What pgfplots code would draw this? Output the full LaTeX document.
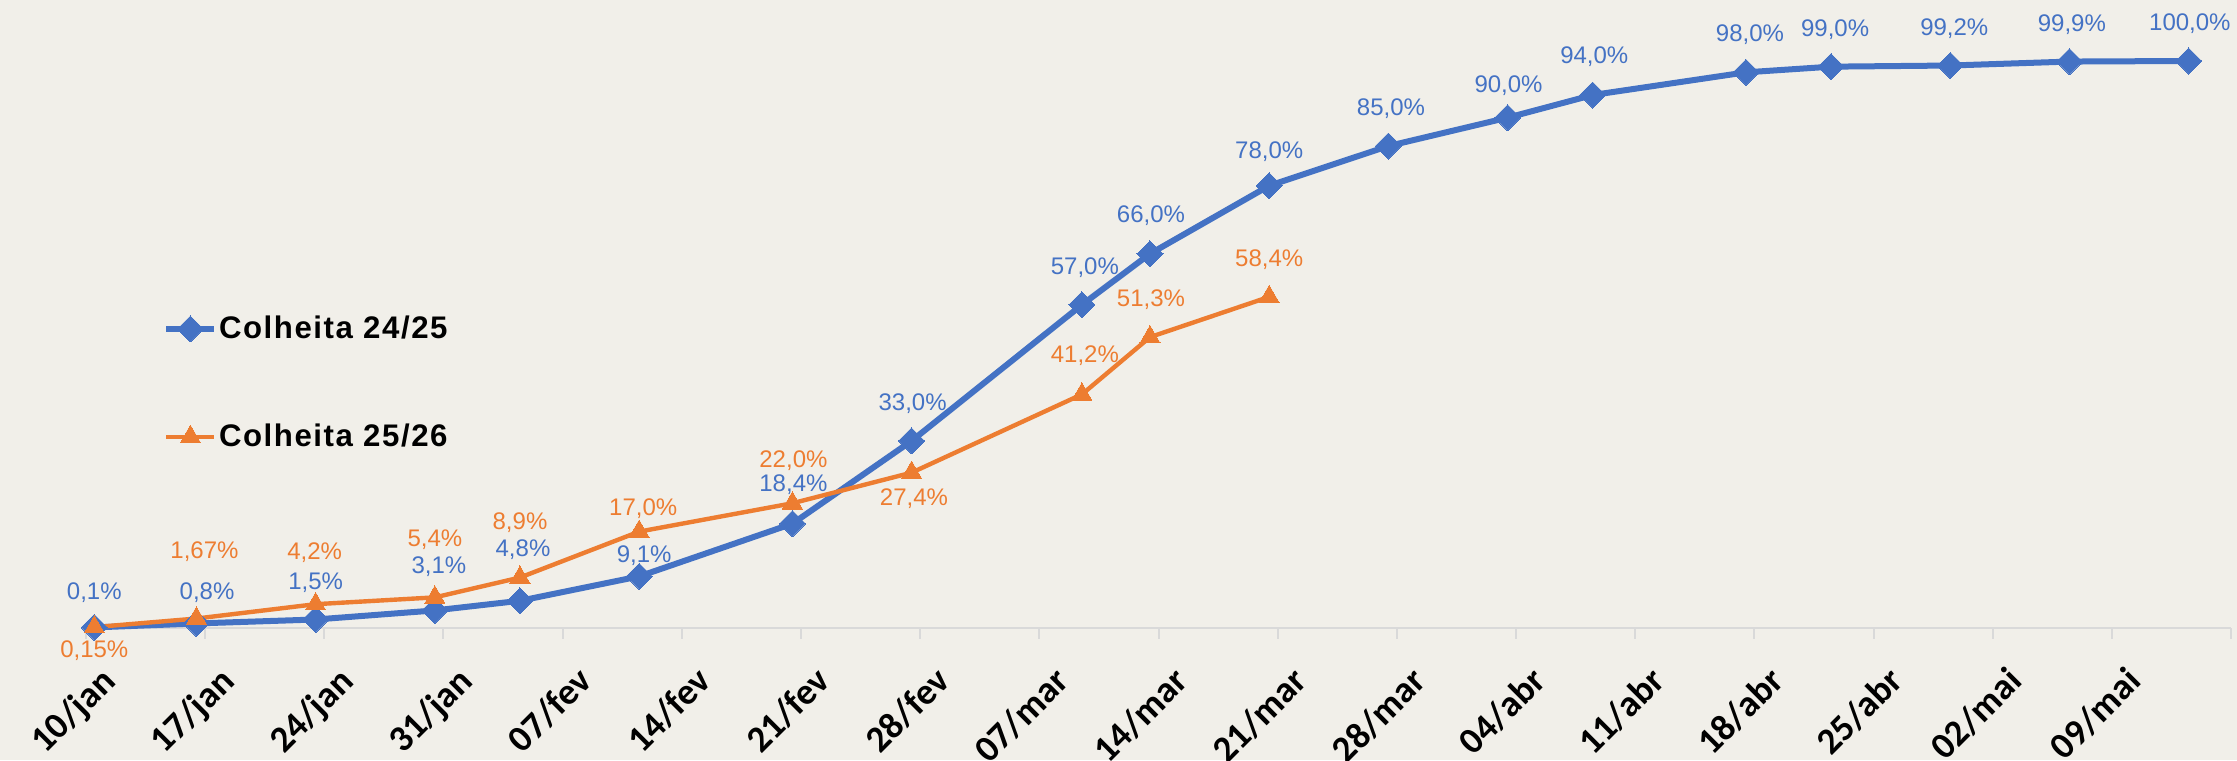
\documentclass[border=0pt]{standalone}
\usepackage{pgfplots}
\usepackage{pgfplotstable}
\pgfplotsset{compat=1.18}
\usepackage{fontspec}
\setmainfont{Liberation Sans}
\newfontfamily\carlito{Carlito}
\newfontfamily\legfont[LetterSpace=5]{Liberation Sans}
\definecolor{bg}{RGB}{241,239,233}
\definecolor{cblue}{RGB}{68,114,196}
\definecolor{corange}{RGB}{237,125,49}
\definecolor{axgray}{RGB}{217,217,217}

\pgfplotstableread{
x y lbl dx dy
0 0.1 0,1 0 17.5
6 0.8 0,8 5.3 15.5
13 1.5 1,5 0 18.5
20 3.1 3,1 2 22
25 4.8 4,8 1.5 25.5
32 9.1 9,1 2.5 10.5
41 18.4 18,4 0.5 19.5
48 33.0 33,0 0.5 18.5
58 57.0 57,0 1.5 18.5
62 66.0 66,0 0.5 19
69 78.0 78,0 0 17
76 85.0 85,0 1.3 18.5
83 90.0 90,0 0.5 16
88 94.0 94,0 0.8 19
97 98.0 98,0 2 19
102 99.0 99,0 2 18.5
109 99.2 99,2 2 18.5
116 99.9 99,9 1.2 18.5
123 100.0 100,0 0.6 18.5
}\colheitaA

\pgfplotstableread{
x y lbl dx dy
0 0.15 0,15 0 -12
6 1.67 1,67 4 33.5
13 4.2 4,2 -0.5 26
20 5.4 5,4 0 29
25 8.9 8,9 0 27.5
32 17.0 17,0 2 11.5
41 22.0 22,0 0.5 21.5
48 27.4 27,4 1.2 -13
58 41.2 41,2 1.5 19.5
62 51.3 51,3 0.5 18.5
69 58.4 58,4 0 18.5
}\colheitaB

\begin{document}
\begin{tikzpicture}
\useasboundingbox (0,0) rectangle (1118.5pt,380pt);
\fill[bg] (0,0) rectangle (1118.5pt,380pt);
\begin{axis}[
  at={(42.9pt,66pt)}, anchor=south west,
  scale only axis, width=1072.7pt, height=311.85pt,
  xmin=-0.5, xmax=125.5, ymin=0, ymax=110,
  clip=false,
  axis y line=none,
  axis x line=bottom,
  axis line style={-, color=axgray, line width=1pt},
  xtick={0,7,...,119},
  xticklabels={10/jan,17/jan,24/jan,31/jan,07/fev,14/fev,21/fev,28/fev,07/mar,14/mar,21/mar,28/mar,04/abr,11/abr,18/abr,25/abr,02/mai,09/mai},
  major tick length=0pt,
  xticklabel style={xshift=2.2pt, yshift=-18.3pt, rotate=45, anchor=north east, inner sep=0pt,
    font=\carlito\bfseries\fontsize{18.5}{18.5}\selectfont, text=black},
  extra x ticks={-0.5,6.5,...,125.5},
  extra x tick labels={},
  extra x tick style={major tick length=5.3pt, tick align=outside,
    tick style={color=axgray, line width=1pt}},
  legend style={at={(0.036,0.393)}, anchor=west, draw=none, fill=none,
    row sep=39.5pt, inner sep=0pt,
    font=\legfont\bfseries\fontsize{15.6}{15.6}\selectfont,
    nodes={inner sep=0.8pt}},
  legend cell align=left,
  legend image code/.code={\draw[mark repeat=2,mark phase=2,#1] plot coordinates {(0pt,0pt) (12pt,0pt) (24pt,0pt)};},
]
\addplot[color=cblue, line width=3pt, mark=square*, mark size=4.6pt,
  mark options={rotate=45, solid, line width=0pt},
  point meta=explicit symbolic,
  nodes near coords={\pgfplotspointmeta\%},
  visualization depends on={\thisrow{dx}\as\dx},
  visualization depends on={\thisrow{dy}\as\dy},
  every node near coord/.append style={anchor=center, inner sep=0pt,
    xshift=\dx, yshift=\dy, font=\fontsize{12}{12}\selectfont, text=cblue}]
  table[x=x, y=y, meta=lbl] {\colheitaA};
\addlegendentry{Colheita 24/25}
\addplot[color=corange, line width=2.2pt, mark=triangle*, mark size=5.8pt,
  mark options={solid, line width=0pt},
  point meta=explicit symbolic,
  nodes near coords={\pgfplotspointmeta\%},
  visualization depends on={\thisrow{dx}\as\dx},
  visualization depends on={\thisrow{dy}\as\dy},
  every node near coord/.append style={anchor=center, inner sep=0pt,
    xshift=\dx, yshift=\dy, font=\fontsize{12}{12}\selectfont, text=corange}]
  table[x=x, y=y, meta=lbl] {\colheitaB};
\addlegendentry{Colheita 25/26}
\end{axis}
\end{tikzpicture}
\end{document}
